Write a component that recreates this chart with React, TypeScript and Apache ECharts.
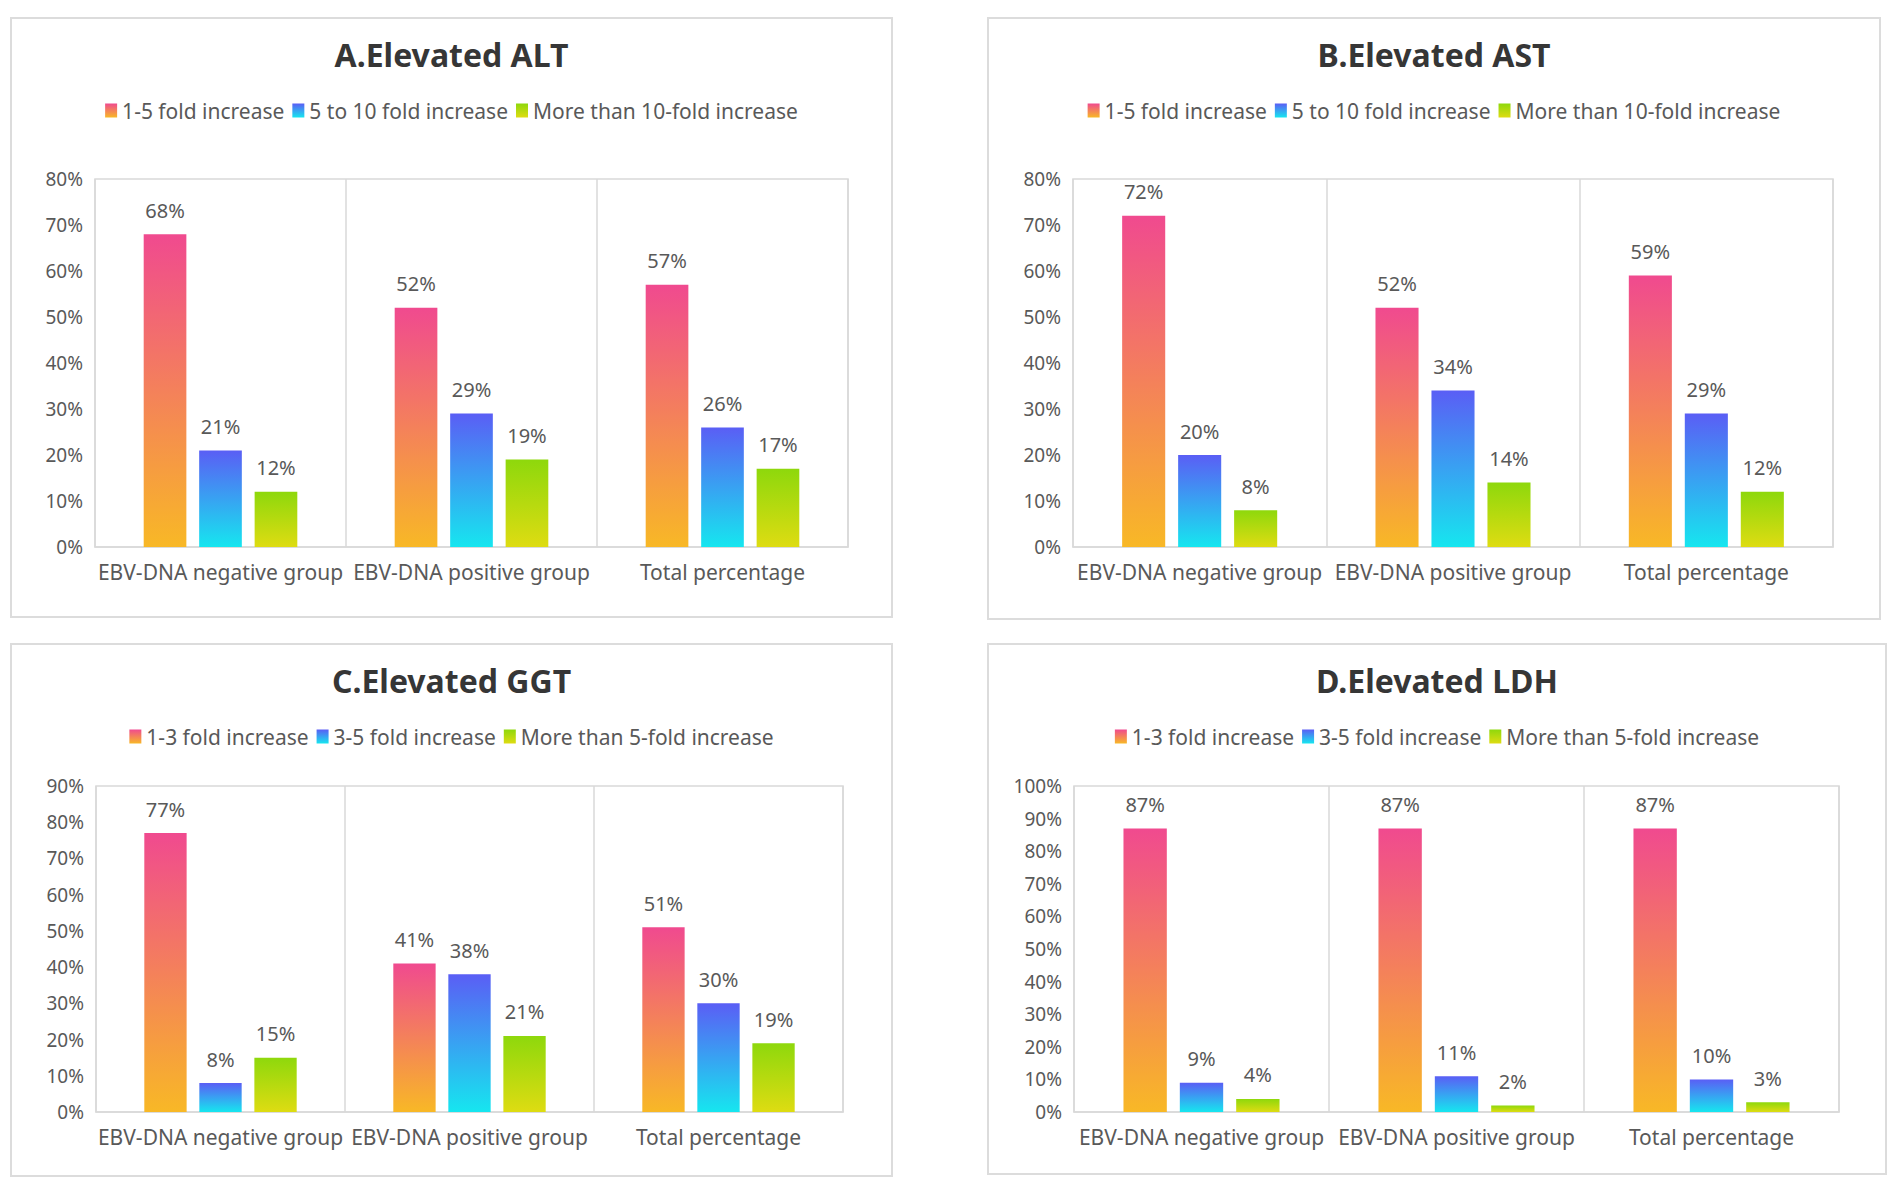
import React, { useEffect, useRef } from "react";
import * as echarts from "echarts";

const categories = ["EBV-DNA negative group", "EBV-DNA positive group", "Total percentage"];
const legendAB = ["1-5 fold increase", "5 to 10 fold increase", "More than 10-fold increase"];
const legendCD = ["1-3 fold increase", "3-5 fold increase", "More than 5-fold increase"];

const altLow = [68, 52, 57];
const altMid = [21, 29, 26];
const altHigh = [12, 19, 17];

const astLow = [72, 52, 59];
const astMid = [20, 34, 29];
const astHigh = [8, 14, 12];

const ggtLow = [77, 41, 51];
const ggtMid = [8, 38, 30];
const ggtHigh = [15, 21, 19];

const ldhLow = [87, 87, 87];
const ldhMid = [9, 11, 10];
const ldhHigh = [4, 2, 3];

const gradients = [
  ["#f04a8f", "#f8b826"],
  ["#5a5ef5", "#16e6ef"],
  ["#8ed80c", "#dedc12"],
];

const FONT = "'Noto Sans', 'Open Sans', sans-serif";
const TEXT = "#595959";
const LINE = "#d9d9d9";

function grad(i: number) {
  return new echarts.graphic.LinearGradient(0, 0, 0, 1, [
    { offset: 0, color: gradients[i][0] },
    { offset: 1, color: gradients[i][1] },
  ]);
}

function buildOption(title: string, names: string[], data: number[][], yMax: number, grid: any) {
  return {
    animation: false,
    backgroundColor: "#ffffff",
    textStyle: { fontFamily: FONT },
    title: {
      text: title,
      left: "center",
      top: 14,
      textStyle: { fontFamily: FONT, fontSize: 32, fontWeight: "bold", color: "#363636" },
    },
    legend: {
      data: names,
      top: 76,
      left: "center",
      icon: "rect",
      itemWidth: 12,
      itemHeight: 14,
      itemGap: 8,
      textStyle: { fontFamily: FONT, fontSize: 21, color: TEXT },
    },
    grid: {
      ...grid,
      show: true,
      borderColor: LINE,
      borderWidth: 1.5,
      containLabel: false,
    },
    xAxis: {
      type: "category",
      data: categories,
      axisTick: { show: false },
      axisLine: { lineStyle: { color: LINE, width: 1.5 } },
      axisLabel: { interval: 0, fontFamily: FONT, fontSize: 21, color: TEXT, margin: 14 },
      splitLine: { show: true, interval: 0, lineStyle: { color: LINE, width: 1.5 } },
    },
    yAxis: {
      type: "value",
      min: 0,
      max: yMax,
      interval: 10,
      axisLine: { show: false },
      axisTick: { show: false },
      splitLine: { show: false },
      axisLabel: { formatter: "{value}%", fontFamily: FONT, fontSize: 19, color: TEXT, margin: 12 },
    },
    series: names.map((n, i) => ({
      name: n,
      type: "bar",
      data: data[i],
      barWidth: "17%",
      barGap: "30%",
      itemStyle: { color: grad(i) },
      label: {
        show: true,
        position: "top",
        distance: 14,
        formatter: "{c}%",
        fontFamily: FONT,
        fontSize: 20,
        color: TEXT,
      },
    })),
  };
}

function Panel(props: { left: number; top: number; width: number; height: number; option: any }) {
  const ref = useRef<HTMLDivElement>(null);
  useEffect(() => {
    if (!ref.current) return;
    const chart = echarts.init(ref.current, null, { renderer: "svg" });
    chart.setOption(props.option);
    return () => chart.dispose();
  }, []);
  return (
    <div
      style={{
        position: "absolute",
        left: props.left,
        top: props.top,
        width: props.width,
        height: props.height,
        border: "2px solid #dcdcdc",
        boxSizing: "border-box",
        background: "#fff",
      }}
    >
      <div ref={ref} style={{ width: props.width - 4, height: props.height - 4 }} />
    </div>
  );
}

export default function App() {
  const optA = buildOption("A.Elevated ALT", legendAB, [altLow, altMid, altHigh], 80, {
    left: 83, top: 160, right: 43, bottom: 69,
  });
  const optB = buildOption("B.Elevated AST", legendAB, [astLow, astMid, astHigh], 80, {
    left: 84, top: 160, right: 46, bottom: 71,
  });
  const optC = buildOption("C.Elevated GGT", legendCD, [ggtLow, ggtMid, ggtHigh], 90, {
    left: 84, top: 141, right: 48, bottom: 63,
  });
  const optD = buildOption("D.Elevated LDH", legendCD, [ldhLow, ldhMid, ldhHigh], 100, {
    left: 85, top: 141, right: 46, bottom: 61,
  });
  return (
    <div style={{ position: "fixed", left: 0, top: 0, width: 1902, height: 1194, background: "#fff" }}>
      <Panel left={10} top={17} width={883} height={601} option={optA} />
      <Panel left={987} top={17} width={894} height={603} option={optB} />
      <Panel left={10} top={643} width={883} height={534} option={optC} />
      <Panel left={987} top={643} width={900} height={532} option={optD} />
    </div>
  );
}
